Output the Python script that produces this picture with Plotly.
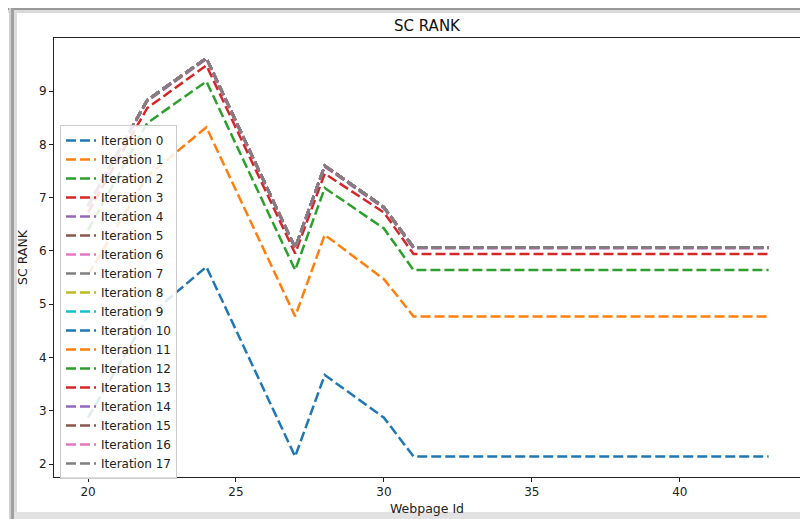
import plotly.graph_objects as go

# Webpage ids where the lines bend (flat after 31)
webpage_ids = [20, 22, 24, 27, 28, 30, 31, 43]

iter0 = [2.87, 4.76, 5.70, 2.14, 3.67, 2.87, 2.14, 2.14]
iter1 = [5.55, 7.40, 8.32, 4.77, 6.30, 5.47, 4.77, 4.77]
iter2 = [6.39, 8.40, 9.18, 5.64, 7.18, 6.42, 5.64, 5.64]
iter3 = [6.72, 8.68, 9.48, 5.95, 7.45, 6.72, 5.94, 5.94]
iter4 = [6.83, 8.81, 9.60, 6.04, 7.58, 6.80, 6.05, 6.05]
iter5 = [6.84, 8.82, 9.61, 6.05, 7.59, 6.81, 6.06, 6.06]
iter_conv = [6.85, 8.83, 9.62, 6.06, 7.60, 6.82, 6.07, 6.07]

series = [iter0, iter1, iter2, iter3, iter4, iter5] + [iter_conv] * 12
names = ["Iteration %d" % i for i in range(18)]
colors = ["#1f77b4", "#ff7f0e", "#2ca02c", "#d62728", "#9467bd",
          "#8c564b", "#e377c2", "#7f7f7f", "#bcbd22", "#17becf"]

fig = go.Figure()
for i, (nm, ys) in enumerate(zip(names, series)):
    fig.add_trace(go.Scatter(
        x=webpage_ids, y=ys, name=nm, mode="lines",
        line=dict(color=colors[i % 10], width=2.5, dash="10px,4px"),
    ))

W, H = 800, 519
L, R, T, B = 54, 0, 38, 42
pw, ph = W - L - R, H - T - B

def px(x):
    return (x - L) / pw

def py(y):
    return (H - B - y) / ph

shapes = [
    # window shadow frame
    dict(type="rect", xref="paper", yref="paper", x0=px(8), x1=px(W + 5), y0=py(8), y1=py(10),
         fillcolor="#9a9a9a", line_width=0),
    dict(type="rect", xref="paper", yref="paper", x0=px(8), x1=px(W + 5), y0=py(10), y1=py(13),
         fillcolor="#dadada", line_width=0),
    dict(type="rect", xref="paper", yref="paper", x0=px(9), x1=px(11), y0=py(H + 5), y1=py(8),
         fillcolor="#d0d0d0", line_width=0),
    dict(type="rect", xref="paper", yref="paper", x0=px(11), x1=px(14), y0=py(H + 5), y1=py(8),
         fillcolor="#a0a0a0", line_width=0),
    dict(type="rect", xref="paper", yref="paper", x0=px(14), x1=px(17), y0=py(H + 5), y1=py(10),
         fillcolor="#dcdcdc", line_width=0),
    dict(type="rect", xref="paper", yref="paper", x0=px(14), x1=px(W + 5), y0=py(H + 5), y1=py(512),
         fillcolor="#e2e2e2", line_width=0),
]

fig.update_layout(
    width=W, height=H,
    margin=dict(l=L, r=R, t=T, b=B, pad=0),
    paper_bgcolor="white", plot_bgcolor="white",
    font=dict(family="DejaVu Sans", size=12, color="#222"),
    title=dict(text="SC RANK", x=0.5, xref="paper", xanchor="center",
               y=1 - 26 / H, yref="container", yanchor="middle",
               font=dict(size=15, color="#111")),
    showlegend=True,
    legend=dict(x=px(60), y=py(125), xanchor="left", yanchor="top",
                bgcolor="rgba(255,255,255,0.85)", bordercolor="#cccccc", borderwidth=1,
                font=dict(size=12, color="#222"), tracegroupgap=0),
    shapes=shapes,
)

fig.update_xaxes(range=[18.85, 18.85 + pw / 29.59], tickvals=[20, 25, 30, 35, 40],
                 showgrid=False, zeroline=False, showline=True, linecolor="#222", linewidth=1,
                 mirror=True, ticks="outside", ticklen=4, tickcolor="#222",
                 title=dict(text="Webpage Id", standoff=5, font=dict(size=12.5)))
fig.update_yaxes(range=[1.756, 9.995], tickvals=[2, 3, 4, 5, 6, 7, 8, 9],
                 showgrid=False, zeroline=False, showline=True, linecolor="#222", linewidth=1,
                 ticks="outside", ticklen=4, tickcolor="#222",
                 title=dict(text="SC RANK", standoff=8, font=dict(size=12.5)))

fig.write_html("out.html")
